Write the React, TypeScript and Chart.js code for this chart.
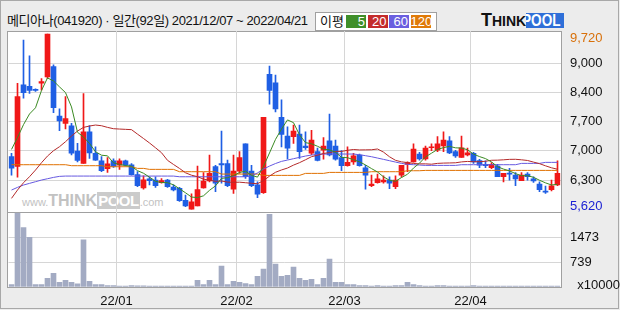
import React, { useEffect, useRef } from "react";
import { Chart, registerables } from "chart.js";

Chart.register(...registerables);

// ---- data ----
const dates = [
  "21/12/07","21/12/08","21/12/09","21/12/10","21/12/13","21/12/14","21/12/15","21/12/16","21/12/17","21/12/20",
  "21/12/21","21/12/22","21/12/23","21/12/24","21/12/27","21/12/28","21/12/29","21/12/30",
  "22/01/03","22/01/04","22/01/05","22/01/06","22/01/07","22/01/10","22/01/11","22/01/12","22/01/13","22/01/14",
  "22/01/17","22/01/18","22/01/19","22/01/20","22/01/21","22/01/24","22/01/25","22/01/26","22/01/27","22/01/28",
  "22/02/03","22/02/04","22/02/07","22/02/08","22/02/09","22/02/10","22/02/11","22/02/14","22/02/15","22/02/16",
  "22/02/17","22/02/18","22/02/21","22/02/22","22/02/23","22/02/24","22/02/25","22/02/28",
  "22/03/02","22/03/03","22/03/04","22/03/07","22/03/08","22/03/10","22/03/11","22/03/14","22/03/15","22/03/16",
  "22/03/17","22/03/18","22/03/21","22/03/22","22/03/23","22/03/24","22/03/25","22/03/28","22/03/29","22/03/30","22/03/31",
  "22/04/01","22/04/04","22/04/05","22/04/06","22/04/07","22/04/08","22/04/11","22/04/12","22/04/13","22/04/14",
  "22/04/15","22/04/18","22/04/19","22/04/20","22/04/21",
];

const opens = [
  6850, 6620, 8530, 8500, 8430, 8570, 8720, 8960, 7800, 7630,
  7570, 6980, 6690, 7430, 6930, 6750, 6570, 6750, 6650, 6750,
  6660, 6430, 6120, 6330, 6300, 6240, 6300, 6140, 6110, 5830,
  5620, 5700, 6120, 6280, 6620, 6690, 6690, 6090, 6510, 7150,
  6510, 6190, 6010, 8780, 8580, 7770, 7330, 7320, 7380, 7100,
  6930, 6970, 7000, 7220, 7100, 6830, 6640, 6730, 6890, 6590,
  6170, 6240, 6260, 6300, 6150, 6420, 6670, 6730, 6910, 6800,
  7060, 7000, 7100, 7220, 6970, 6830, 6890, 6930, 6760, 6670,
  6590, 6630, 6380, 6460, 6420, 6290, 6440, 6330, 6210, 6040,
  6080, 6190,
];
const closes = [
  6580, 8260, 8350, 8400, 8400, 8610, 9720, 8000, 7690, 7740,
  6930, 6760, 7430, 6940, 6770, 6520, 6680, 6620, 6750, 6650,
  6430, 6170, 6310, 6290, 6170, 6290, 6150, 6070, 5820, 5700,
  5790, 6080, 6280, 6460, 6230, 6660, 6170, 6510, 6830, 6380,
  6170, 5970, 7770, 8400, 7970, 7370, 7050, 7450, 6970, 7060,
  7240, 6760, 7100, 6890, 6790, 6640, 6720, 6870, 6640, 6420,
  6210, 6330, 6300, 6230, 6300, 6650, 6710, 7030, 6800, 7050,
  7080, 7150, 7240, 6940, 6870, 7060, 6940, 6730, 6650, 6640,
  6670, 6380, 6460, 6440, 6330, 6420, 6380, 6280, 6080, 6020,
  6170, 6460,
];
const highs = [
  6930, 8570, 9580, 9210, 8440, 8680, 9720, 9000, 7970, 8260,
  7630, 7160, 8330, 7580, 7080, 6850, 6830, 6800, 6800, 6770,
  6690, 6500, 6400, 6380, 6380, 6340, 6320, 6190, 6130, 5950,
  5980, 6630, 6480, 6890, 6650, 7450, 6770, 6890, 6970, 7150,
  6650, 6260, 7770, 8970, 8760, 8180, 7550, 7590, 7590, 7430,
  7470, 7050, 7300, 7850, 7240, 6990, 7080, 6930, 6910, 6650,
  6420, 6440, 6400, 6380, 6400, 6650, 6730, 7150, 6950, 7100,
  7150, 7320, 7430, 7320, 7000, 7330, 7050, 6950, 6790, 6750,
  6710, 6670, 6460, 6580, 6480, 6480, 6480, 6380, 6260, 6160,
  6300, 6750,
];
const lows = [
  6420, 6370, 8220, 8330, 8380, 8410, 8680, 7880, 7460, 7500,
  6890, 6730, 6690, 6810, 6760, 6500, 6480, 6600, 6550, 6630,
  6420, 6150, 6090, 6190, 6130, 6230, 6130, 6050, 5800, 5680,
  5620, 5700, 6110, 6260, 6030, 6230, 6150, 5990, 6460, 6340,
  6150, 5890, 5990, 8080, 7900, 7080, 6800, 7160, 6810, 7020,
  6900, 6750, 6790, 6870, 6770, 6520, 6630, 6670, 6630, 6090,
  6150, 6230, 6230, 6100, 6100, 6370, 6500, 6720, 6770, 6770,
  6990, 6970, 6970, 6920, 6830, 6830, 6870, 6690, 6590, 6590,
  6570, 6380, 6260, 6300, 6170, 6290, 6300, 6250, 6030, 5990,
  6050, 6170,
];
// volume, unit x10000 shares
const volumes = [
  75, 2196, 1764, 1473, 75, 75, 256, 407, 136, 196,
  136, 95, 1402, 166, 75, 75, 45, 45, 15, 15,
  45, 35, 35, 25, 25, 15, 15, 15, 15, 15,
  15, 196, 75, 196, 75, 618, 75, 166, 136, 105,
  75, 317, 528, 2156, 678, 317, 347, 588, 256, 196,
  226, 75, 256, 829, 136, 136, 75, 75, 45, 45,
  15, 45, 15, 15, 45, 45, 136, 75, 45, 25,
  25, 45, 45, 25, 25, 25, 25, 45, 15, 15,
  15, 15, 15, 15, 15, 15, 15, 15, 15, 15,
  15, 15,
];
const ma5 = [
  7020, 7300, 7600, 7850, 7995, 8401, 8694, 8624, 8484, 8351,
  8015, 7422, 7310, 7160, 6966, 6885, 6870, 6706, 6667, 6643,
  6625, 6523, 6462, 6370, 6273, 6245, 6240, 6192, 6098, 6005,
  5905, 5892, 5934, 6062, 6167, 6342, 6359, 6406, 6479, 6511,
  6412, 6372, 6623, 6937, 7255, 7496, 7711, 7647, 7361, 7179,
  7152, 7094, 7024, 7009, 6954, 6834, 6827, 6780, 6730, 6657,
  6571, 6492, 6379, 6297, 6273, 6362, 6439, 6584, 6698, 6846,
  6932, 7020, 7062, 7092, 7057, 7052, 7012, 6910, 6852, 6805,
  6727, 6615, 6560, 6517, 6454, 6404, 6404, 6368, 6298, 6237,
  6187, 6203,
];
const ma20 = [
  5874, 6069, 6240, 6381, 6537, 6709, 6865, 6990, 7084, 7201,
  7333, 7450, 7536, 7568, 7591, 7575, 7536, 7505, 7497, 7490,
  7483, 7378, 7276, 7171, 7059, 6943, 6765, 6668, 6575, 6473,
  6416, 6382, 6324, 6300, 6273, 6280, 6255, 6249, 6253, 6240,
  6227, 6217, 6290, 6395, 6485, 6539, 6584, 6653, 6710, 6778,
  6850, 6884, 6925, 6946, 6974, 6973, 7000, 7018, 7008, 7010,
  7012, 7030, 6957, 6848, 6765, 6729, 6712, 6691, 6682, 6682,
  6674, 6693, 6700, 6703, 6707, 6728, 6739, 6732, 6732, 6743,
  6766, 6769, 6777, 6787, 6789, 6777, 6761, 6723, 6687, 6636,
  6590, 6556,
];
const ma60 = [
  6069, 6131, 6186, 6225, 6264, 6303, 6334, 6365, 6389, 6396,
  6396, 6396, 6396, 6396, 6396, 6396, 6396, 6396, 6396, 6396,
  6396, 6396, 6396, 6396, 6396, 6396, 6396, 6396, 6380, 6380,
  6380, 6380, 6380, 6380, 6380, 6380, 6380, 6380, 6380, 6380,
  6400, 6470, 6560, 6630, 6690, 6740, 6771, 6803, 6834, 6865,
  6888, 6904, 6912, 6912, 6912, 6912, 6912, 6912, 6896, 6873,
  6849, 6818, 6787, 6756, 6724, 6693, 6670, 6662, 6654, 6646,
  6646, 6646, 6646, 6646, 6646, 6662, 6662, 6662, 6662, 6662,
  6662, 6662, 6662, 6662, 6662, 6693, 6693, 6693, 6693, 6717,
  6717, 6717,
];
const ma120 = [
  6662, 6662, 6662, 6662, 6662, 6662, 6662, 6662, 6662, 6662,
  6639, 6639, 6639, 6639, 6639, 6639, 6615, 6615, 6615, 6615,
  6615, 6576, 6576, 6553, 6553, 6553, 6553, 6553, 6498, 6498,
  6498, 6498, 6498, 6498, 6498, 6443, 6443, 6443, 6443, 6443,
  6443, 6443, 6412, 6412, 6412, 6412, 6412, 6412, 6412, 6459,
  6459, 6459, 6459, 6482, 6482, 6482, 6482, 6482, 6482, 6482,
  6498, 6498, 6498, 6498, 6498, 6498, 6521, 6521, 6521, 6529,
  6529, 6529, 6529, 6529, 6529, 6529, 6529, 6529, 6529, 6529,
  6529, 6529, 6529, 6529, 6529, 6529, 6529, 6529, 6529, 6529,
  6529, 6529,
];

const priceTickValues = [5620, 6303, 6987, 7670, 8353, 9037, 9720];
const priceTickLabels = ["5,620", "6,300", "7,000", "7,700", "8,400", "9,000", "9,720"];
const volumeTickValues = [0, 739, 1473];
const volumeTickLabels = ["  x10000", "739", "1473"];
const legendItems = ["5", "20", "60", "120"];

// ---- styles ----
const UP = "#f01818";
const DOWN = "#1f5fe4";
const VOL = "#a3abc3";
const GRID = "#d6d6d6";
const FRAME = "#a0a0a0";
const MA_COLORS = ["#3a8a22", "#b42a2a", "#6659e0", "#e07000"];
const LEGEND_COLORS = ["#3f8f2a", "#c42c2c", "#6b5fe0", "#e07a08"];
const AXIS_FAMILY = "'Liberation Sans Narrow', 'Liberation Sans', sans-serif";
const AXIS_FONT = { family: AXIS_FAMILY, size: 13 };
const TEXT_FONT = "'Liberation Sans', 'Noto Sans CJK KR', sans-serif";

function isMonthStart(i?: number) {
  if (typeof i !== "number" || i <= 0 || i >= dates.length) return false;
  return dates[i].slice(3, 5) !== dates[i - 1].slice(3, 5);
}

export default function App() {
  const priceRef = useRef<HTMLCanvasElement>(null);
  const volRef = useRef<HTMLCanvasElement>(null);

  useEffect(() => {
    const candleColors = closes.map((c, i) => (c >= opens[i] ? UP : DOWN));
    const gridX = (ctx: any) => (isMonthStart(ctx.index) ? GRID : "rgba(0,0,0,0)");
    const last = priceTickLabels.length - 1;

    const maSet = (data: number[], color: string) => ({
      type: "line" as const,
      data,
      borderColor: color,
      borderWidth: 1,
      pointRadius: 0,
      tension: 0,
      order: 0,
    });

    const price = new Chart(priceRef.current!, {
      type: "bar",
      data: {
        labels: dates,
        datasets: [
          maSet(ma5, MA_COLORS[0]),
          maSet(ma20, MA_COLORS[1]),
          maSet(ma60, MA_COLORS[2]),
          maSet(ma120, MA_COLORS[3]),
          {
            type: "bar",
            data: dates.map((_, i) => [opens[i], closes[i]]),
            backgroundColor: candleColors,
            barThickness: 5,
            minBarLength: 1,
            grouped: false,
            borderWidth: 0,
            borderSkipped: false,
            order: 1,
          } as any,
          {
            type: "bar",
            data: dates.map((_, i) => [lows[i], highs[i]]),
            backgroundColor: candleColors,
            barThickness: 1,
            grouped: false,
            borderWidth: 0,
            borderSkipped: false,
            order: 2,
          } as any,
        ],
      },
      options: {
        animation: false,
        responsive: false,
        devicePixelRatio: 1,
        events: [],
        layout: { padding: { left: 8.5, top: 31, right: 0, bottom: 97.5 } },
        plugins: { legend: { display: false }, tooltip: { enabled: false } },
        scales: {
          x: {
            offset: true,
            grid: { offset: true, color: gridX, drawTicks: false },
            border: { display: false },
            ticks: { display: false, autoSkip: false },
            afterFit: (s: any) => { s.height = 0; },
          },
          y: {
            position: "right",
            min: 5543,
            max: 9793,
            afterBuildTicks: (s: any) => { s.ticks = priceTickValues.map((v) => ({ value: v })); },
            ticks: {
              // the extreme labels sit just inside the pane, as in the reference
              callback: (_v: any, i: number) =>
                i === last ? ["", priceTickLabels[i]] : i === 0 ? [priceTickLabels[i], ""] : priceTickLabels[i],
              color: (ctx: any) => (ctx.index === last ? "#d8700a" : ctx.index === 0 ? "#1c22d4" : "#111"),
              padding: 9.5,
              font: (ctx: any) =>
                ctx.index === last
                  ? { family: AXIS_FAMILY, size: 13, lineHeight: 0.62 }
                  : ctx.index === 0
                  ? { family: AXIS_FAMILY, size: 13, lineHeight: 0.4 }
                  : AXIS_FONT,
            },
            grid: {
              color: (ctx: any) => (ctx.index === 0 || ctx.index === last ? "rgba(0,0,0,0)" : GRID),
              drawTicks: false,
            },
            border: { display: false },
            afterFit: (s: any) => { s.width = 59.5; },
          },
        },
      } as any,
    });

    const vol = new Chart(volRef.current!, {
      type: "bar",
      data: {
        labels: dates,
        datasets: [
          {
            data: volumes,
            backgroundColor: VOL,
            barThickness: 5,
            minBarLength: 1,
            borderWidth: 0,
          },
        ],
      },
      options: {
        animation: false,
        responsive: false,
        devicePixelRatio: 1,
        events: [],
        layout: { padding: { left: 8.5, top: 212.5, right: 0, bottom: 0 } },
        plugins: { legend: { display: false }, tooltip: { enabled: false } },
        scales: {
          x: {
            offset: true,
            grid: { offset: true, color: gridX, drawTicks: false },
            border: { display: false },
            ticks: {
              autoSkip: false,
              maxRotation: 0,
              minRotation: 0,
              labelOffset: -3,
              padding: 7,
              color: "#111",
              font: AXIS_FONT,
              callback: (_v: any, i: number) => (isMonthStart(i) ? dates[i].slice(0, 5) : ""),
            },
            afterFit: (s: any) => { s.height = 23; },
          },
          y: {
            position: "right",
            min: 0,
            max: 2210,
            afterBuildTicks: (s: any) => { s.ticks = volumeTickValues.map((v) => ({ value: v })); },
            ticks: {
              callback: (_v: any, i: number) => (i === 0 ? [volumeTickLabels[i], ""] : volumeTickLabels[i]),
              color: "#111",
              padding: 9.5,
              font: (ctx: any) =>
                ctx.index === 0 ? { family: AXIS_FAMILY, size: 13, lineHeight: 0.2 } : AXIS_FONT,
            },
            grid: {
              color: (ctx: any) => (ctx.index === 0 ? "rgba(0,0,0,0)" : GRID),
              drawTicks: false,
            },
            border: { display: false },
            afterFit: (s: any) => { s.width = 59.5; },
          },
        },
      } as any,
    });

    return () => {
      price.destroy();
      vol.destroy();
    };
  }, []);

  const abs = (o: React.CSSProperties): React.CSSProperties => ({ position: "absolute", ...o });

  return (
    <div style={abs({ left: 0, top: 0, width: 620, height: 310, background: "#ececec", overflow: "hidden", fontFamily: TEXT_FONT })}>
      {/* outer frame */}
      <div style={abs({ left: 0, top: 0, width: 619, height: 309, border: "1px solid #a8a8a8", boxSizing: "border-box" })} />
      {/* plot panel */}
      <div style={abs({ left: 7, top: 31, width: 555, height: 257, background: "#fff", border: `1px solid ${FRAME}`, boxSizing: "border-box" })} />
      <div style={abs({ left: 7, top: 212, width: 555, height: 1, background: FRAME })} />

      {/* title */}
      <div style={abs({ left: 7, top: 13, fontSize: 13, lineHeight: "16px", color: "#111", letterSpacing: "-0.4px", whiteSpace: "nowrap" })}>
        메디아나(041920) · 일간(92일) 2021/12/07 ~ 2022/04/21
      </div>

      {/* legend */}
      <div style={abs({ left: 315, top: 12, width: 122, height: 19, background: "#fff", border: `1px solid ${FRAME}`, boxSizing: "border-box" })}>
        <span style={abs({ left: 4, top: 0, fontSize: 13, lineHeight: "17px", color: "#111" })}>이평</span>
        {legendItems.map((t, k) => (
          <span
            key={t}
            style={abs({
              left: 30 + k * 21.5,
              top: 2,
              width: 20,
              height: 13,
              background: LEGEND_COLORS[k],
              color: "#fff",
              fontSize: 13,
              lineHeight: "13px",
              textAlign: "right",
              boxSizing: "border-box",
              paddingRight: 1,
            })}
          >
            {t}
          </span>
        ))}
      </div>

      {/* logo */}
      <div style={abs({ left: 481, top: 12, height: 17, whiteSpace: "nowrap", fontFamily: "'Liberation Sans', sans-serif", fontWeight: 700 })}>
        <span style={{ fontSize: 18, color: "#111", lineHeight: "17px" }}>T</span>
        <span style={{ fontSize: 14, color: "#111", lineHeight: "17px" }}>HINK</span>
      </div>
      <div style={abs({ left: 526, top: 13, width: 38, height: 15, background: "#2f6fd8", overflow: "hidden" })}>
        <span style={abs({ left: -4, top: -1, fontSize: 17, lineHeight: "17px", fontWeight: 700, color: "#fff", fontFamily: "'Liberation Sans', sans-serif", transform: "scaleX(0.8)", transformOrigin: "left top", display: "inline-block", width: 60 })}>
          POOL
        </span>
      </div>

      {/* watermark */}
      <div style={abs({ left: 22, top: 193, height: 16, whiteSpace: "nowrap", color: "#c2c2c2", fontFamily: "'Liberation Sans', sans-serif", fontWeight: 700, lineHeight: "16px" })}>
        <span style={{ fontSize: 11, fontWeight: 400 }}>www.</span>
        <span style={{ fontSize: 16 }}>THINK</span>
        <span style={{ fontSize: 15, color: "#fff", background: "#cbcbcb", padding: "0 1px", letterSpacing: "-0.5px" }}>POOL</span>
        <span style={{ fontSize: 11, fontWeight: 400 }}>.com</span>
      </div>

      <canvas ref={priceRef} width={620} height={310} style={abs({ left: 0, top: 0, width: 620, height: 310 })} />
      <canvas ref={volRef} width={620} height={310} style={abs({ left: 0, top: 0, width: 620, height: 310 })} />
    </div>
  );
}
